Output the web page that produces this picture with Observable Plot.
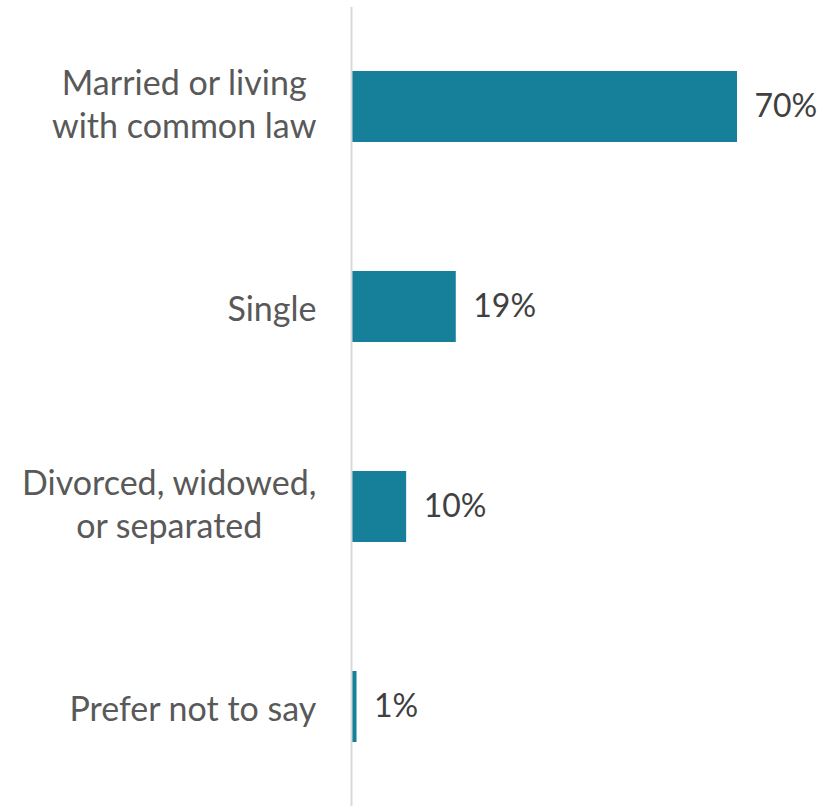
<!DOCTYPE html>
<html>
<head>
<meta charset="utf-8">
<script src="https://cdn.jsdelivr.net/npm/d3@7"></script>
<script src="https://cdn.jsdelivr.net/npm/@observablehq/plot@0.6"></script>
<style>
  html, body { margin: 0; padding: 0; background: #fff; }
  #chart svg { display: block; }
</style>
</head>
<body>
<div id="chart"></div>
<script>
const categories = ["Married or living with common law", "Single", "Divorced, widowed, or separated", "Prefer not to say"];
const tickLabels = ["Married or living\nwith common law", "Single", "Divorced, widowed,\nor separated", "Prefer not to say"];
const values = [70, 19, 10, 1];
const valueLabels = ["70%", "19%", "10%", "1%"];

const data = categories.map((c, i) => ({category: c, value: values[i], label: valueLabels[i]}));
const tickMap = new Map(categories.map((c, i) => [c, tickLabels[i]]));

const font = "Lato, 'Open Sans', sans-serif";

const chart = Plot.plot({
  width: 828,
  height: 806,
  marginLeft: 351,
  marginRight: 91,
  marginTop: 7,
  marginBottom: 0,
  style: {fontFamily: font, background: "#fff"},
  x: {domain: [0, 70], axis: null},
  y: {domain: categories, paddingInner: 0.646, paddingOuter: 0.317, label: null},
  marks: [
    Plot.barX(data, {x: "value", y: "category", fill: "#167f9a"}),
    Plot.ruleX([0], {stroke: "#d9d9d9", strokeWidth: 2}),
    Plot.axisY({
      tickSize: 0,
      tickPadding: 35,
      tickFormat: d => tickMap.get(d),
      fontSize: 34,
      lineHeight: 1.24,
      fill: "#595959",
      label: null
    }),
    Plot.text(data, {x: "value", y: "category", text: "label", dx: 17, textAnchor: "start", fontSize: 32, fill: "#404040"})
  ]
});
document.getElementById("chart").appendChild(chart);

// center multi-line tick labels within their block (right edge stays at the axis padding)
chart.querySelectorAll('g[aria-label="y-axis tick label"] text').forEach(t => {
  const w = t.getBBox().width;
  t.setAttribute("text-anchor", "middle");
  const spans = t.querySelectorAll("tspan");
  if (spans.length) {
    spans.forEach(s => s.setAttribute("x", -w / 2));
    t.setAttribute("transform", ((t.getAttribute("transform") || "") + " translate(0,-4)").trim());
  } else {
    t.setAttribute("x", (+t.getAttribute("x") || 0) - w / 2);
  }
});
</script>
</body>
</html>
